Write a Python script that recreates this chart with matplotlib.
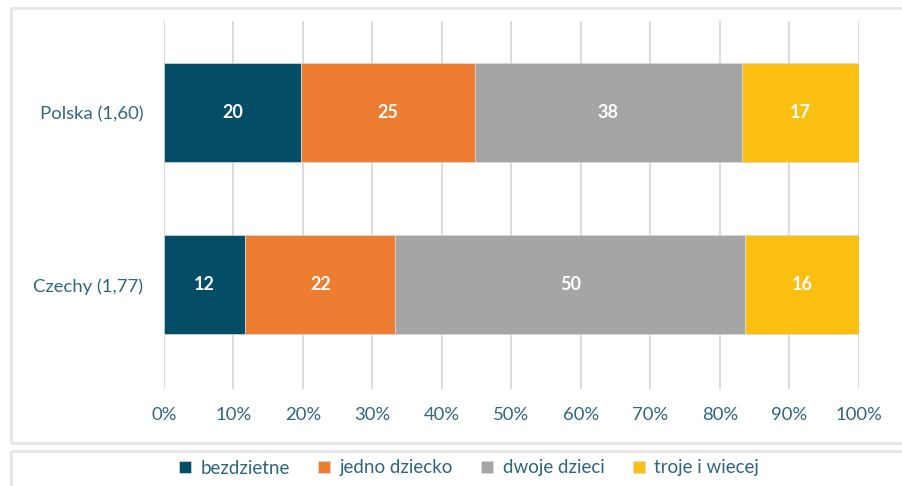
import matplotlib.pyplot as plt
import matplotlib.patches as patches
import numpy as np

plt.rcParams['font.family'] = ['Lato', 'DejaVu Sans']

countries = ['Czechy (1,77)', 'Polska (1,60)']
series = ['bezdzietne', 'jedno dziecko', 'dwoje dzieci', 'troje i wiecej']
values = {
    'bezdzietne':     [11.7, 19.7],
    'jedno dziecko':  [21.6, 25.0],
    'dwoje dzieci':   [50.3, 38.5],
    'troje i wiecej': [16.4, 16.8],
}
labels = {
    'bezdzietne':     ['12', '20'],
    'jedno dziecko':  ['22', '25'],
    'dwoje dzieci':   ['50', '38'],
    'troje i wiecej': ['16', '17'],
}
colors = ['#034D66', '#ED7D31', '#A5A5A5', '#FBBF12']
text_col = '#2E6680'

fig = plt.figure(figsize=(9.03, 4.86), dpi=100)

# frames around plot and legend (right side runs off the image)
fig.patches.append(patches.Rectangle((11 / 903, 1 - 443 / 486), 0.99, 435 / 486,
                                     transform=fig.transFigure, fill=False,
                                     edgecolor='#E6E6E6', linewidth=2))
fig.patches.append(patches.Rectangle((11 / 903, -0.05), 0.99, 1 - 451 / 486 + 0.05,
                                     transform=fig.transFigure, fill=False,
                                     edgecolor='#E6E6E6', linewidth=2))

ax = fig.add_axes([164 / 903, 1 - 389 / 486, 695 / 903, 368 / 486])

y = np.arange(len(countries))
left = np.zeros(len(countries))
for s, c in zip(series, colors):
    v = np.array(values[s])
    ax.barh(y, v, left=left, height=0.574, color=c, edgecolor='#D9D9D9',
            linewidth=0.5, label=s, zorder=2)
    for yi, (l, vi, t) in enumerate(zip(left, v, labels[s])):
        ax.text(l + vi / 2, yi, t, ha='center', va='center', color='white',
                fontsize=13, fontweight='bold', zorder=3)
    left += v

ax.set_xlim(0, 100)
ax.set_ylim(-0.603, 1.530)
ax.set_xticks(np.arange(0, 101, 10))
ax.set_xticklabels(['{}%'.format(t) for t in range(0, 101, 10)])
ax.set_yticks(y)
ax.set_yticklabels(countries)
ax.grid(axis='x', color='#D9D9D9', linewidth=1.3, zorder=0)
ax.set_axisbelow(True)
for sp in ax.spines.values():
    sp.set_visible(False)
ax.tick_params(axis='both', length=0, labelsize=13.3, colors=text_col)
ax.tick_params(axis='x', pad=13)
ax.tick_params(axis='y', pad=15)

fig.legend(loc='center', bbox_to_anchor=(469 / 903, 1 - 468 / 486), ncol=4, frameon=False,
           fontsize=13.5, labelcolor=text_col, handlelength=0.65, handleheight=0.65,
           handletextpad=0.5, columnspacing=1.5)

fig.savefig('out.png', dpi=100)
